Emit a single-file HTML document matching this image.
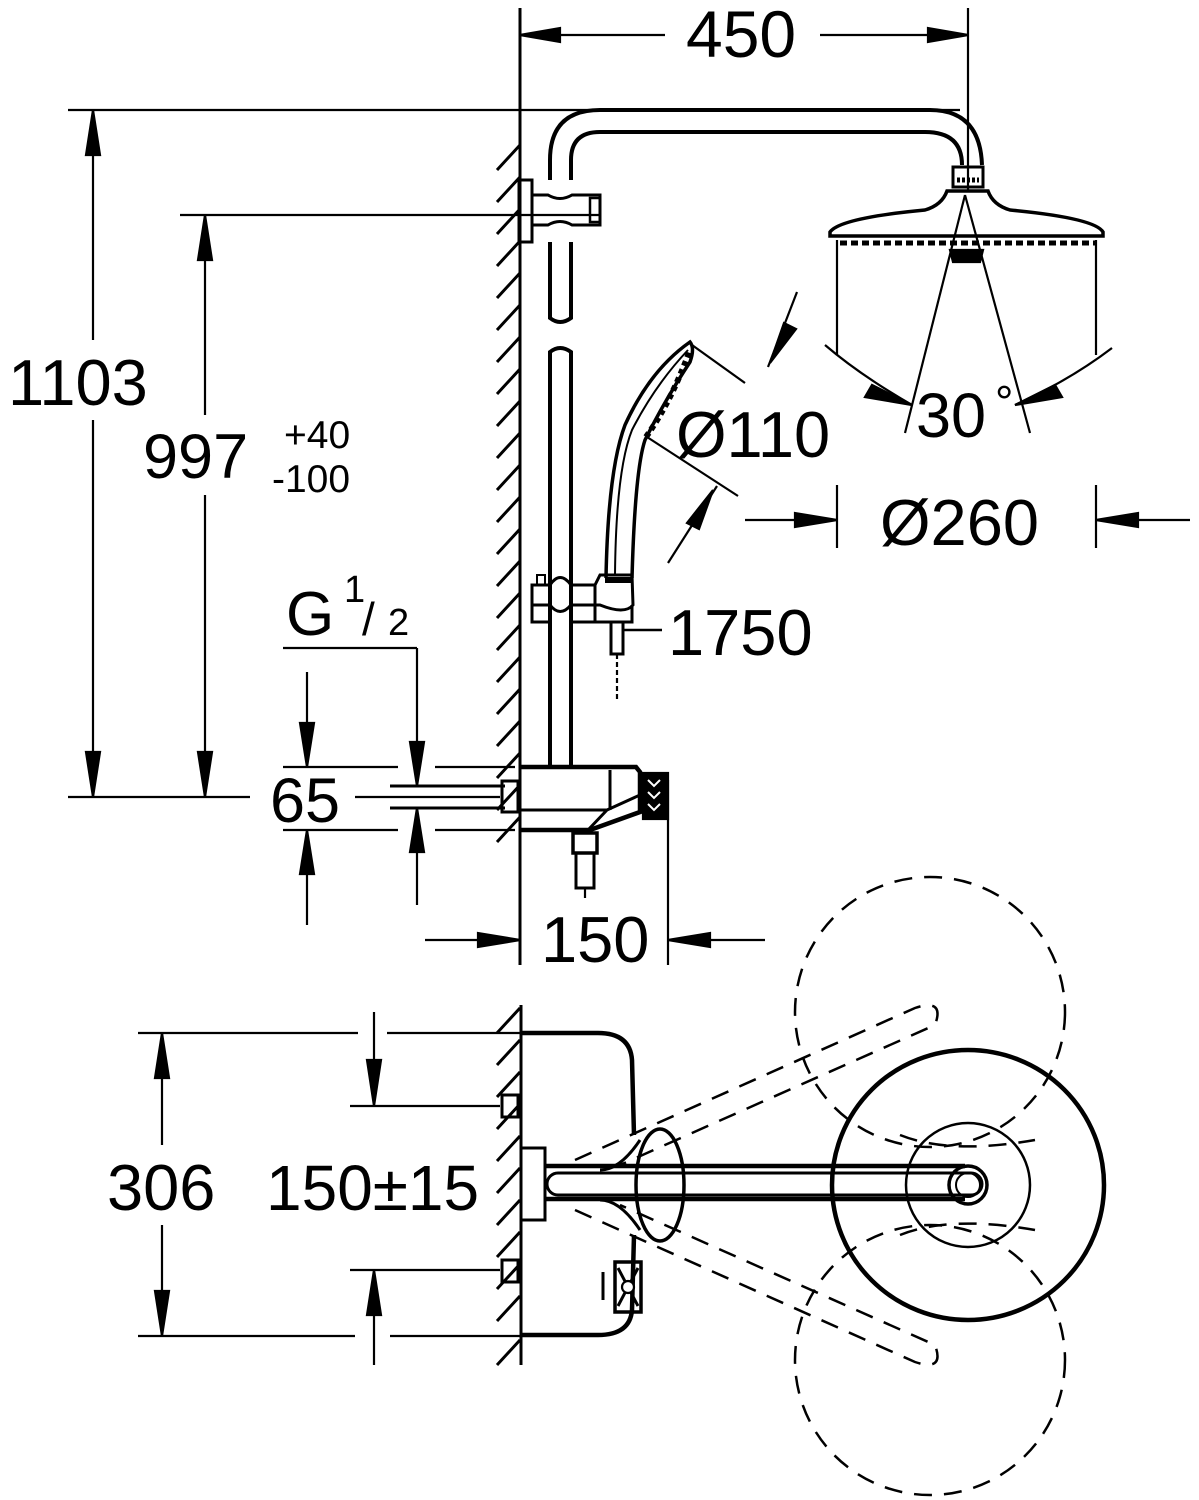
<!DOCTYPE html>
<html><head><meta charset="utf-8"><style>
html,body{margin:0;padding:0;background:#fff;}
svg{display:block;}
text{font-family:"Liberation Sans",sans-serif;fill:#000;}
</style></head><body>
<svg width="1199" height="1500" viewBox="0 0 1199 1500" xmlns="http://www.w3.org/2000/svg">
<g stroke="#000" fill="none" stroke-width="2.2">
<!-- 450 -->
<line x1="520" y1="8" x2="520" y2="965" stroke-width="3"/>
<line x1="968" y1="8" x2="968" y2="190"/>
<line x1="530" y1="35" x2="665" y2="35"/><line x1="820" y1="35" x2="958" y2="35"/>
<path d="M520,35 L560,28 L560,42Z M968,35 L928,28 L928,42Z" fill="#000"/>
<!-- 1103 -->
<line x1="68" y1="110" x2="960" y2="110"/>
<line x1="68" y1="797" x2="250" y2="797"/>
<line x1="93" y1="110" x2="93" y2="340"/><line x1="93" y1="420" x2="93" y2="797"/>
<path d="M93,110 L86,155 L100,155Z M93,797 L86,752 L100,752Z" fill="#000"/>
<!-- 997 -->
<line x1="180" y1="215" x2="600" y2="215"/>
<line x1="205" y1="215" x2="205" y2="415"/><line x1="205" y1="495" x2="205" y2="797"/>
<path d="M205,215 L198,260 L212,260Z M205,797 L198,752 L212,752Z" fill="#000"/>
<!-- hatching top -->
<g stroke-width="3">
<path d="M497,170 L520,145 M497,202 L520,177 M497,234 L520,209 M497,266 L520,241 M497,298 L520,273 M497,330 L520,305 M497,362 L520,337 M497,394 L520,369 M497,426 L520,401 M497,458 L520,433 M497,490 L520,465 M497,522 L520,497 M497,554 L520,529 M497,586 L520,561 M497,618 L520,593 M497,650 L520,625 M497,682 L520,657 M497,714 L520,689 M497,746 L520,721 M497,778 L520,753 M497,810 L520,785 M497,842 L520,817"/>
</g>
<!-- riser pipe -->
<g stroke-width="4">
<path d="M550,180 L550,160 Q550,110 600,110 L930,110 Q980,110 982,165"/>
<path d="M571,180 L571,160 Q571,132 600,132 L925,132 Q962,132 962,165"/>
<path d="M550,242 L550,318 Q560,326 571,318 L571,242"/>
<path d="M550,766 L550,352 Q560,344 571,352 L571,766"/>
</g>
<!-- upper bracket -->
<rect x="519" y="180" width="13" height="62" stroke-width="3"/>
<path d="M532,195 L548,195 Q560,202 572,195 L600,195 L600,225 L572,225 Q560,218 548,225 L532,225" stroke-width="3"/>
<rect x="590" y="198" width="10" height="24" stroke-width="2.5"/>
<!-- head shower -->
<rect x="953" y="167" width="30" height="20" stroke-width="3"/>
<path d="M957,180 h22" stroke-width="5" stroke-dasharray="3,2"/>
<path d="M947,191 L988,191 Q993,205 1010,210 Q1095,218 1103,232 L1103,236 L830,236 L830,232 Q840,218 925,210 Q942,205 947,191Z" stroke-width="3.5"/>
<path d="M840,243 L1095,243" stroke-width="5" stroke-dasharray="7,4"/>
<path d="M950,250 L983,250 L980,262 L953,262Z" fill="#000"/>
<line x1="837" y1="240" x2="837" y2="355"/><line x1="1096" y1="240" x2="1096" y2="355"/>
<line x1="837" y1="485" x2="837" y2="548"/><line x1="1096" y1="485" x2="1096" y2="548"/>
<line x1="965" y1="195" x2="905" y2="433"/><line x1="965" y1="195" x2="1030" y2="433"/>
<path d="M825,345 Q860,375 912,405" /><path d="M1112,348 Q1070,380 1015,405"/>
<path d="M912,405 L872,385 L865,397Z M1015,405 L1055,385 L1062,397Z" fill="#000"/>
<!-- Ø260 -->
<line x1="745" y1="520" x2="800" y2="520"/><line x1="1190" y1="520" x2="1130" y2="520"/>
<path d="M837,520 L795,513 L795,527Z M1096,520 L1138,513 L1138,527Z" fill="#000"/>
<!-- hand shower -->
<path d="M606,578 Q608,470 625,425 Q650,370 690,342 Q695,348 690,362 Q665,400 645,440 Q635,470 632,578" stroke-width="3.5"/>
<path d="M615,575 Q616,470 632,430 Q655,385 688,350" stroke-width="2"/>
<path d="M646,437 Q672,400 690,350" stroke-width="6" stroke-dasharray="5,4"/>
<!-- Ø110 dims -->
<line x1="692" y1="345" x2="745" y2="383"/><line x1="647" y1="437" x2="738" y2="496"/>
<line x1="797" y1="292" x2="768" y2="367"/><line x1="717" y1="486" x2="668" y2="563"/>
<path d="M770,363 L784,323 L796,329Z M713,490 L699,529 L687,523Z" fill="#000"/>
<!-- lower slider -->
<path d="M532,585 L550,585 Q560,570 571,585 L595,585 L600,575 L632,575 L633,605 Q625,615 600,605 L571,605 Q560,618 550,605 L532,605" stroke-width="3"/>
<rect x="532" y="585" width="18" height="37" stroke-width="3"/>
<rect x="537" y="575" width="8" height="10" stroke-width="2"/>
<path d="M571,585 L571,622 M595,585 L595,622 M571,622 L632,622 L632,605" stroke-width="3"/>
<path d="M605,580 L632,580" stroke-width="6"/>
<rect x="611" y="622" width="12" height="32" stroke-width="3"/>
<line x1="617" y1="654" x2="617" y2="700" stroke-dasharray="5,3"/>
<line x1="623" y1="630" x2="662" y2="630" stroke-width="2.5"/>
<!-- thermostat -->
<path d="M520,767 L636,767 L640,772 L640,812 L590,830 L520,830" stroke-width="4.5"/>
<path d="M520,810 L607,810 L640,795 M610,770 L610,810 M588,830 L607,810" stroke-width="3"/>
<rect x="643" y="773" width="25" height="46" fill="#000"/>
<path d="M648,780 l6,6 l6,-6 M648,792 l6,6 l6,-6 M648,804 l6,6 l6,-6" stroke="#fff" stroke-width="2"/>
<rect x="573" y="833" width="24" height="20" stroke-width="3.5"/>
<rect x="576" y="853" width="18" height="35" stroke-width="3"/>
<line x1="585" y1="888" x2="585" y2="898"/>
<line x1="668" y1="780" x2="668" y2="965"/>
<!-- inlet -->
<line x1="390" y1="786" x2="505" y2="786" stroke-width="3"/><line x1="390" y1="808" x2="505" y2="808" stroke-width="3"/>
<line x1="355" y1="797" x2="500" y2="797"/>
<rect x="502" y="781" width="16" height="31" stroke-width="3"/>
<!-- 65 & G1/2 dims -->
<line x1="283" y1="767" x2="398" y2="767"/><line x1="435" y1="767" x2="515" y2="767"/>
<line x1="283" y1="830" x2="398" y2="830"/><line x1="435" y1="830" x2="515" y2="830"/>
<line x1="307" y1="672" x2="307" y2="730"/><line x1="307" y1="925" x2="307" y2="870"/>
<path d="M307,767 L300,723 L314,723Z M307,830 L300,874 L314,874Z" fill="#000"/>
<line x1="283" y1="648" x2="417" y2="648"/>
<line x1="417" y1="648" x2="417" y2="745"/><line x1="417" y1="905" x2="417" y2="850"/>
<path d="M417,786 L410,742 L424,742Z M417,808 L410,852 L424,852Z" fill="#000"/>
<!-- 150 -->
<line x1="425" y1="940" x2="480" y2="940"/><line x1="765" y1="940" x2="710" y2="940"/>
<path d="M520,940 L478,933 L478,947Z M668,940 L710,933 L710,947Z" fill="#000"/>

<!-- ===== bottom view ===== -->
<line x1="521" y1="1005" x2="521" y2="1365" stroke-width="3"/>
<path d="M497,1033 L520,1008 M497,1065 L520,1040 M497,1097 L520,1072 M497,1129 L520,1104 M497,1161 L520,1136 M497,1193 L520,1168 M497,1225 L520,1200 M497,1257 L520,1232 M497,1289 L520,1264 M497,1321 L520,1296 M497,1365 L520,1340" stroke-width="3"/>
<line x1="138" y1="1033" x2="358" y2="1033"/><line x1="387" y1="1033" x2="520" y2="1033"/>
<line x1="138" y1="1336" x2="355" y2="1336"/><line x1="390" y1="1336" x2="520" y2="1336"/>
<line x1="350" y1="1106" x2="500" y2="1106"/><line x1="350" y1="1270" x2="500" y2="1270"/>
<line x1="162" y1="1033" x2="162" y2="1145"/><line x1="162" y1="1225" x2="162" y2="1336"/>
<path d="M162,1033 L155,1078 L169,1078Z M162,1336 L155,1291 L169,1291Z" fill="#000"/>
<line x1="374" y1="1012" x2="374" y2="1065"/><line x1="374" y1="1365" x2="374" y2="1310"/>
<path d="M374,1106 L367,1060 L381,1060Z M374,1270 L367,1315 L381,1315Z" fill="#000"/>
<rect x="502" y="1095" width="16" height="22" stroke-width="3"/>
<rect x="502" y="1260" width="16" height="22" stroke-width="3"/>
<!-- body -->
<path d="M521,1033 L598,1033 Q630,1033 632,1060 L634,1135" stroke-width="4.5"/>
<path d="M521,1335 L598,1335 Q630,1335 632,1310 L634,1235" stroke-width="4.5"/>
<rect x="615" y="1262" width="26" height="50" stroke-width="3.5"/>
<path d="M618,1268 l20,38 M638,1268 l-20,38" stroke-width="3"/>
<circle cx="628" cy="1287" r="6" fill="#fff"/>
<line x1="603" y1="1272" x2="603" y2="1300" stroke-width="3"/>
<!-- arm -->
<rect x="521" y="1148" width="24" height="72" stroke-width="3"/>
<path d="M545,1166 L965,1166 M545,1199 L965,1199" stroke-width="4.5"/>
<rect x="547" y="1173" width="435" height="22" rx="11" stroke-width="3"/>
<ellipse cx="660" cy="1185" rx="24" ry="56" stroke-width="3.5"/>
<path d="M640,1140 Q620,1170 600,1170 M640,1230 Q620,1200 600,1200" stroke-width="3"/>
<!-- head circles -->
<ellipse cx="968" cy="1185" rx="136" ry="135" stroke-width="4.5"/>
<circle cx="968" cy="1185" r="62" stroke-width="2.5"/>
<circle cx="968" cy="1185" r="19" stroke-width="3.5"/>
<circle cx="968" cy="1185" r="12" stroke-width="2"/>
<g stroke-dasharray="18,12" stroke-width="2.5">
<circle cx="930" cy="1012" r="135"/>
<circle cx="930" cy="1360" r="135"/>
<path d="M575,1160 L915,1008 Q945,998 935,1025 L620,1165"/>
<path d="M575,1210 L915,1362 Q945,1372 935,1345 L620,1205"/>
<path d="M900,1135 Q950,1155 1035,1140 M900,1235 Q950,1215 1035,1230"/>
</g>
</g>
<g>
<text x="686" y="57" font-size="66">450</text>
<text x="8" y="405" font-size="65">1103</text>
<text x="143" y="478" font-size="63">997</text>
<text x="284" y="448" font-size="39">+40</text>
<text x="272" y="492" font-size="39">-100</text>
<text x="916" y="437" font-size="63">30</text>
<text x="995" y="418" font-size="46">°</text>
<text x="676" y="457" font-size="65">Ø110</text>
<text x="880" y="545" font-size="65">Ø260</text>
<text x="668" y="655" font-size="65">1750</text>
<text x="286" y="635" font-size="62">G</text>
<text x="344" y="602" font-size="38">1</text>
<text x="362" y="635" font-size="46">/</text>
<text x="388" y="635" font-size="38">2</text>
<text x="270" y="822" font-size="63">65</text>
<text x="541" y="962" font-size="65">150</text>
<text x="107" y="1210" font-size="65">306</text>
<text x="266" y="1210" font-size="64">150±15</text>
</g>
</svg>
</body></html>
